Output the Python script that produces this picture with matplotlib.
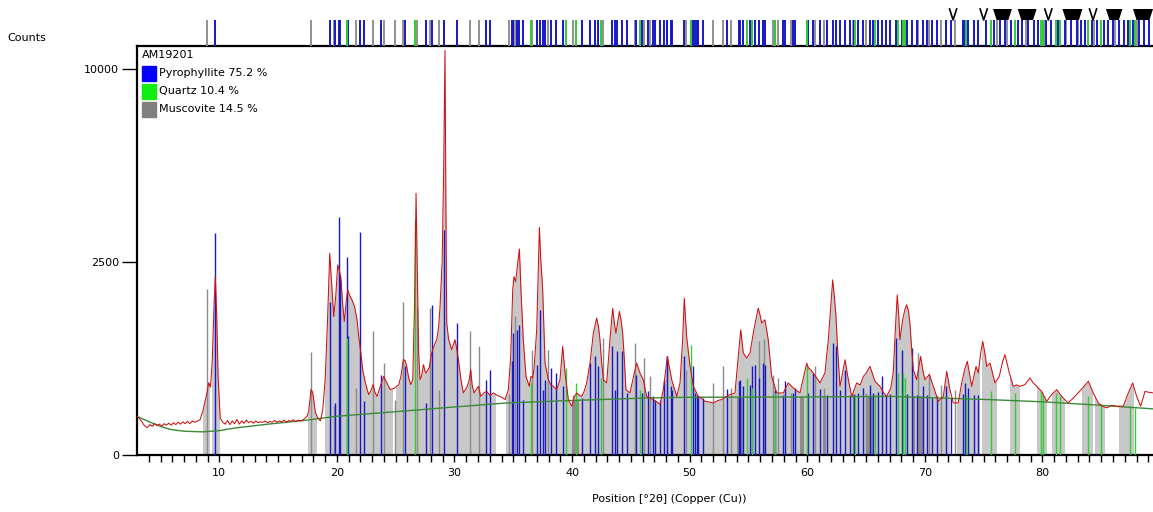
import numpy as np
import matplotlib
matplotlib.use('Agg')
import matplotlib.pyplot as plt
from matplotlib.patches import Rectangle
from matplotlib.ticker import NullLocator

# observed pattern (2theta, counts)
obs_x = [3.0, 3.15, 3.4, 3.6, 3.86, 4.1, 4.3, 4.5, 4.7, 4.9, 5.1, 5.3, 5.5, 5.7, 5.9, 6.1, 6.3, 6.5, 6.7, 6.9,
         7.1, 7.3, 7.5, 7.7, 7.9, 8.1, 8.36, 8.6, 8.8, 8.96, 9.1, 9.25, 9.4, 9.55, 9.66, 9.78, 9.9, 10.08, 10.3, 10.5,
         10.7, 10.9, 11.1, 11.3, 11.5, 11.7, 11.9, 12.1, 12.3, 12.5, 12.7, 12.9, 13.1, 13.3, 13.5, 13.7, 13.9, 14.1, 14.3, 14.5,
         14.7, 14.9, 15.1, 15.3, 15.5, 15.7, 15.9, 16.1, 16.3, 16.5, 16.7, 16.9, 17.2, 17.45, 17.6, 17.8, 17.95, 18.17, 18.4, 18.6,
         18.8, 19.0, 19.2, 19.39, 19.55, 19.73, 19.9, 20.07, 20.2, 20.35, 20.5, 20.63, 20.8, 20.92, 21.1, 21.28, 21.5, 21.71, 21.85, 22.0,
         22.2, 22.42, 22.7, 22.9, 23.07, 23.25, 23.41, 23.7, 23.98, 24.2, 24.54, 24.9, 25.26, 25.45, 25.65, 25.8, 25.94, 26.1, 26.28, 26.45,
         26.6, 26.73, 26.85, 26.95, 27.07, 27.2, 27.36, 27.5, 27.58, 27.7, 27.85, 28.06, 28.3, 28.49, 28.65, 28.77, 28.95, 29.08, 29.19, 29.28,
         29.34, 29.5, 29.76, 30.04, 30.2, 30.33, 30.55, 30.75, 31.09, 31.25, 31.38, 31.5, 31.66, 32.03, 32.23, 32.5, 32.74, 33.0, 33.31, 33.6,
         33.87, 34.1, 34.3, 34.58, 34.78, 34.95, 35.06, 35.2, 35.34, 35.52, 35.65, 35.85, 36.08, 36.36, 36.5, 36.65, 36.76, 36.99, 37.12, 37.22,
         37.33, 37.5, 37.7, 37.98, 38.2, 38.4, 38.69, 38.97, 39.2, 39.4, 39.68, 39.97, 40.2, 40.39, 40.6, 40.82, 41.05, 41.24, 41.52, 41.81,
         42.09, 42.25, 42.37, 42.5, 42.66, 42.94, 43.22, 43.45, 43.6, 43.73, 44.02, 44.15, 44.3, 44.45, 44.58, 44.92, 45.2, 45.49, 45.77, 46.05,
         46.34, 46.9, 47.2, 47.48, 47.76, 48.1, 48.3, 48.47, 48.9, 49.18, 49.4, 49.54, 49.74, 50.03, 50.2, 50.31, 50.73, 51.0, 51.3, 51.7,
         52.0, 52.4, 52.72, 53.1, 53.43, 53.85, 54.13, 54.34, 54.56, 54.85, 55.13, 55.41, 55.6, 55.83, 56.0, 56.12, 56.4, 56.68, 56.97, 57.4,
         57.96, 58.38, 58.81, 59.38, 59.95, 60.1, 60.29, 60.5, 60.8, 61.08, 61.5, 61.79, 62.0, 62.16, 62.3, 62.44, 62.6, 62.78, 63.0, 63.21,
         63.49, 63.78, 64.2, 64.5, 64.77, 65.0, 65.33, 65.55, 65.76, 66.18, 66.5, 66.75, 67.1, 67.31, 67.5, 67.65, 67.78, 67.88, 68.11, 68.3,
         68.45, 68.6, 68.73, 68.9, 69.02, 69.3, 69.64, 69.8, 70.0, 70.38, 70.72, 71.14, 71.57, 71.86, 72.13, 72.42, 72.84, 73.13, 73.4, 73.61,
         73.98, 74.35, 74.54, 74.75, 74.92, 75.1, 75.26, 75.54, 75.96, 76.33, 76.6, 76.81, 77.0, 77.18, 77.52, 77.8, 78.09, 78.51, 78.94, 79.2,
         79.51, 79.93, 80.36, 80.78, 81.21, 81.63, 82.19, 82.76, 83.42, 83.9, 84.32, 84.75, 85.1, 85.46, 85.9, 86.31, 86.87, 87.3, 87.67, 88.01,
         88.35, 88.72, 89.0, 89.4]
obs_y = [100, 93, 75, 60, 50, 62, 55, 66, 58, 64, 56, 66, 60, 68, 60, 70, 62, 72, 64, 74,
         66, 76, 66, 78, 72, 76, 84, 130, 200, 261, 351, 310, 600, 1500, 2140, 1300, 400, 90, 72, 64,
         80, 62, 78, 66, 85, 64, 78, 68, 82, 70, 76, 68, 78, 70, 74, 72, 78, 70, 76, 72,
         80, 72, 78, 74, 82, 72, 80, 76, 84, 74, 82, 78, 86, 100, 128, 290, 260, 121, 90, 78,
         140, 381, 1200, 2735, 2000, 1289, 1700, 2428, 2300, 2061, 1500, 1198, 1600, 1833, 1700, 1618, 1480, 1228, 950, 745,
         480, 349, 245, 280, 333, 260, 231, 320, 415, 360, 287, 300, 333, 420, 610, 600, 527, 400, 333, 380,
         1500, 4600, 2000, 700, 381, 420, 548, 470, 452, 480, 509, 699, 820, 893, 1100, 1481, 2500, 5500, 11000, 3500,
         1169, 900, 745, 893, 750, 610, 380, 259, 317, 380, 489, 330, 259, 317, 231, 260, 272, 240, 259, 240,
         231, 220, 206, 287, 653, 1833, 2139, 2020, 2386, 2850, 1833, 893, 415, 317, 415, 400, 489, 1054, 2222, 3480,
         2600, 1833, 568, 381, 330, 317, 287, 381, 792, 452, 206, 160, 230, 259, 240, 231, 280, 349, 568, 999,
         1259, 1100, 893, 600, 381, 349, 893, 1449, 1150, 999, 1384, 1250, 999, 600, 287, 259, 400, 568, 452, 381,
         231, 206, 190, 171, 287, 653, 500, 381, 231, 349, 893, 1654, 945, 527, 400, 317, 231, 215, 194, 188,
         182, 200, 206, 230, 245, 259, 653, 1054, 699, 632, 699, 999, 1200, 1449, 1300, 1169, 1228, 893, 415, 259,
         259, 349, 302, 259, 568, 510, 489, 452, 400, 349, 452, 893, 1500, 2061, 1700, 1289, 700, 317, 450, 610,
         381, 231, 349, 330, 415, 450, 527, 440, 365, 317, 260, 231, 300, 452, 1100, 1720, 1300, 893, 1228, 1420,
         1516, 1400, 1169, 700, 489, 381, 653, 500, 381, 434, 317, 194, 231, 470, 287, 182, 182, 349, 500, 589,
         317, 527, 452, 700, 867, 700, 527, 568, 349, 415, 580, 676, 560, 452, 317, 330, 317, 333, 399, 350,
         317, 272, 194, 245, 287, 231, 182, 231, 302, 365, 259, 182, 160, 149, 165, 160, 160, 259, 349, 231,
         160, 272, 265, 259]

# background curve
bg_x = [3.0, 4.0, 5.0, 5.83, 7.0, 8.67, 10.0, 11.5, 14.34, 17.18, 20.0, 25.37, 30.0, 34.44, 40.0, 46.63,
        50.0, 60.0, 67.0, 75.54, 80.0, 83.97, 89.4]
bg_y = [100, 75, 55, 44, 38, 36, 40, 50, 65, 80, 101, 128, 155, 182, 200, 219,
        224, 226, 231, 206, 190, 171, 143]

# reference lines
pyro_pos = [9.66, 19.39, 19.84, 20.18, 20.26, 20.83, 20.97, 21.97, 22.3, 23.72, 25.8, 27.58, 28.06, 29.1, 30.19,
            32.68, 33.02, 34.86, 35.0, 35.34, 35.51, 35.8, 37.0, 37.27, 37.5, 37.7, 38.18, 38.6, 39.2, 40.82,
            41.52, 41.95, 42.23, 43.37, 43.65, 43.8, 44.22, 44.64, 45.41, 45.97, 46.48, 46.91, 47.05, 47.48, 47.82,
            48.04, 48.41, 48.53, 49.54, 50.31, 50.45, 50.6, 50.74, 51.16, 53.14, 54.2, 54.28, 54.56, 55.13, 55.33,
            55.55, 55.92, 56.2, 56.4, 57.25, 57.96, 58.1, 58.81, 58.95, 60.09, 60.5, 61.08, 61.65, 62.16, 62.4,
            62.78, 63.21, 63.6, 64.0, 64.3, 64.77, 65.33, 65.6, 66.0, 66.33, 66.7, 67.0, 67.54, 68.03, 68.45,
            68.88, 69.3, 69.87, 70.2, 70.6, 71.0, 71.8, 72.2, 73.2, 73.4, 73.7, 74.2, 74.54]
pyro_h = [3300, 1583, 184, 3810, 2180, 2640, 945, 3350, 194, 434, 527, 184, 1516, 3400, 1169,
          381, 489, 589, 999, 1054, 1140, 206, 548, 1416, 287, 381, 509, 452, 317, 219,
          568, 653, 527, 792, 287, 721, 721, 259, 434, 260, 272, 230, 206, 206, 381,
          653, 317, 280, 653, 527, 260, 240, 230, 220, 290, 365, 381, 320, 330, 527,
          548, 400, 568, 548, 280, 240, 365, 260, 300, 260, 452, 290, 240, 842, 792,
          280, 489, 240, 250, 260, 300, 330, 260, 270, 415, 240, 250, 919, 745, 250,
          770, 240, 317, 240, 220, 230, 317, 220, 250, 349, 300, 240, 240]

musc_pos = [8.93, 17.76, 19.78, 21.65, 23.04, 23.98, 24.97, 25.62, 26.8, 27.92, 28.68, 31.32, 32.08, 34.6, 35.15,
            36.6, 37.98, 40.1, 42.6, 45.38, 46.11, 46.62, 48.04, 49.7, 52.0, 52.86, 53.5, 55.92, 56.3, 57.11,
            57.5, 58.6, 60.66, 61.4, 63.9, 65.0, 69.44, 70.38, 71.34, 72.6]
musc_h = [1860, 707, 160, 302, 1026, 568, 206, 1583, 1449, 1449, 287, 1026, 792, 250, 1300,
          745, 745, 240, 919, 842, 632, 415, 610, 489, 349, 527, 300, 867, 900, 434,
          400, 260, 527, 300, 250, 260, 699, 452, 333, 280]

quartz_pos = [20.86, 26.64, 36.54, 39.47, 40.29, 42.45, 45.79, 50.14, 54.87, 55.33, 57.24, 59.96, 64.03, 65.79,
              67.74, 68.14, 68.31, 73.47, 75.66, 77.67, 79.88, 80.04, 81.17, 81.49, 83.84, 84.95, 87.44, 87.9]
quartz_h = [919, 3711, 350, 509, 350, 400, 287, 817, 400, 300, 260, 527, 240, 240,
            452, 452, 400, 240, 272, 259, 272, 240, 259, 231, 231, 171, 160, 150]

# extra reference positions shown only in the strip above the plot
pyro_strip_extra = [75.2, 75.9, 76.4, 76.8, 77.3, 77.9, 78.3, 78.8, 79.3, 79.6, 80.3, 80.7, 81.3, 81.9, 82.4,
                    82.9, 83.3, 83.6, 84.2, 84.6, 85.2, 85.6, 86.0, 86.5, 86.9, 87.3, 87.7, 88.2, 88.6, 89.1]
musc_strip_extra = [76.1, 77.0, 78.6, 80.1, 82.0, 83.0, 84.4, 86.2, 88.0]

# peak markers at the top: single marks and merged groups
peak_marks = [72.4, 75.0, 80.5, 84.3]
peak_groups = [(75.8, 77.4), (77.9, 79.5), (81.7, 83.4), (85.4, 86.8), (87.7, 89.4)]

# regions where the calculated profile is shaded
shade_windows = [(8.6, 9.2), (9.35, 10.1), (17.5, 18.3), (19.0, 24.8), (25.0, 33.5), (34.4, 72.1), (72.7, 74.7),
                 (74.9, 76.1), (77.2, 78.1), (79.5, 80.4), (80.8, 81.9), (83.4, 84.3), (84.5, 85.3), (86.5, 87.8)]
dark_lo = [34.9, 40.0, 54.0, 59.4, 61.3, 65.05, 68.9, 69.5]
dark_hi = [35.1, 40.6, 54.6, 59.7, 61.6, 65.6, 69.2, 69.9]
dark_top = [182, 200, 226, 226, 226, 228, 231, 231]

phases = ['Pyrophyllite', 'Quartz', 'Muscovite']
percents = [75.2, 10.4, 14.5]
legend_colors = ['#0000ff', '#11ee11', '#808080']

XMIN, XMAX = 3.0, 89.4
W, H = 1153, 512

fig = plt.figure(figsize=(W / 100, H / 100), dpi=100)
ax = fig.add_axes([137 / W, 1 - 455 / H, 1016 / W, 409 / H])
ax.set_yscale('function', functions=(lambda v: np.sqrt(np.clip(v, 0, None)), lambda v: np.square(v)))
ax.set_xlim(XMIN, XMAX)
ax.set_ylim(0, 11240)

# shaded profile and white gaps
ax.fill_between(obs_x, 0, obs_y, color='#c8c8c8', lw=0, zorder=1)
edges = [XMIN] + [v for w in shade_windows for v in w] + [XMAX]
for a, b in zip(edges[0::2], edges[1::2]):
    ax.axvspan(a, b, color='white', lw=0, zorder=1.5)
for lo, hi, top in zip(dark_lo, dark_hi, dark_top):
    ax.fill_between([lo, hi], 0, [top, top], color='#8c8c8c', lw=0, zorder=1.8)

ax.vlines(musc_pos, 0, musc_h, color='#8a8a8a', lw=1, zorder=2)
ax.vlines(pyro_pos, 0, pyro_h, color='#1818c8', lw=1, zorder=3)
ax.vlines(quartz_pos, 0, quartz_h, color='#33cc33', lw=1, zorder=3.5)
ax.plot(bg_x, bg_y, color='#3a8a3a', lw=1, zorder=4)
ax.plot(obs_x, obs_y, color='#d01010', lw=0.75, zorder=5)

for s in ['left', 'top', 'bottom']:
    ax.spines[s].set_linewidth(1.6)
ax.spines['right'].set_visible(False)

ax.set_yticks([0, 2500, 10000])
ax.set_yticklabels(['0', '2500', '10000'])
ax.yaxis.set_minor_locator(NullLocator())
ax.set_xticks(range(10, 90, 10))
ax.set_xticks(np.arange(4, 90, 1), minor=True)
ax.tick_params(axis='x', which='both', direction='out', length=5, width=1, labelsize=8, pad=4)
ax.tick_params(axis='y', which='major', direction='out', length=11, width=1, labelsize=8, pad=2)
ax.set_xlabel('Position [°2θ] (Copper (Cu))', fontsize=8)
ax.xaxis.set_label_coords(0.524, -0.095)

# reference strip above the plot
ax_top = fig.add_axes([137 / W, 1 - 46 / H, 1016 / W, 46 / H])
ax_top.set_xlim(XMIN, XMAX)
ax_top.set_ylim(0, 46)
ax_top.axis('off')
ax_top.vlines(musc_pos + musc_strip_extra, 0, 26, color='#909090', lw=1.4)
ax_top.vlines(pyro_pos + pyro_strip_extra, 0, 26, color='#1818c8', lw=1.4)
ax_top.vlines(quartz_pos, 0, 26, color='#33cc33', lw=1.4)
for x in peak_marks:
    ax_top.plot([x - 0.3, x, x + 0.3], [37, 26, 37], color='black', lw=1.2, clip_on=False)
for a, b in peak_groups:
    ax_top.fill([a, b, b - 0.3, a + 0.3], [37, 37, 26, 26], color='black', lw=0, clip_on=False)

fig.text(7 / W, 1 - 38 / H, 'Counts', fontsize=8, va='center', ha='left')

# legend box
fig.text(142 / W, 1 - 55 / H, 'AM19201', fontsize=8, va='center', ha='left')
for i, (name, pct, col) in enumerate(zip(phases, percents, legend_colors)):
    yc = 73 + 18 * i
    fig.patches.append(Rectangle((141.5 / W, 1 - (yc + 7.5) / H), 14.5 / W, 15 / H,
                                 color=col, transform=fig.transFigure, figure=fig))
    fig.text(159 / W, 1 - yc / H, f'{name} {pct} %', fontsize=8, va='center', ha='left')

fig.savefig('out.png', dpi=100)
